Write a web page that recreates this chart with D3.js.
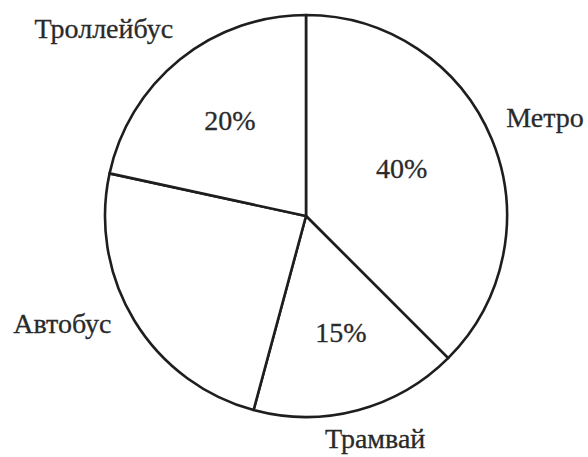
<!DOCTYPE html>
<html><head><meta charset="utf-8">
<script src="https://cdn.jsdelivr.net/npm/d3@7/dist/d3.min.js"></script>
<style>body{margin:0;background:#fff}svg{display:block}</style>
</head><body>
<script>
// Data (slice shares as drawn in the picture; printed labels as shown)
const categories = ["Метро", "Трамвай", "Автобус", "Троллейбус"];
const shares = [37.5, 16.7, 24.2, 21.6];
const percentLabels = ["40%", "15%", "", "20%"];

// Layout (not data)
const W = 588, H = 457;
const cx = 306, cy = 216, R = 201;
const innerLabel = [[63.4, 107], [163.2, 121], [0, 0], [321.6, 122.5]]; // [angleDeg, radius]
const outerLabel = [[67.5, 258.7], [162.7, 232.5], [246.3, 266], [312.9, 276]];
const FS = 28;

const svg = d3.select("body").append("svg").attr("width", W).attr("height", H);
const g = svg.append("g").attr("transform", `translate(${cx},${cy})`);

const pie = d3.pie().sort(null).value(d => d)(shares);
const arc = d3.arc().innerRadius(0).outerRadius(R);

g.selectAll("path.slice").data(pie).join("path")
  .attr("class", "slice")
  .attr("d", arc)
  .attr("fill", "#fff")
  .attr("stroke", "#1e1e1e")
  .attr("stroke-width", 2.6)
  .attr("stroke-linejoin", "round");

const font = "'Liberation Serif','Times New Roman',serif";
const px = (a, r) => r * Math.sin(a * Math.PI / 180);
const py = (a, r) => -r * Math.cos(a * Math.PI / 180);

g.selectAll("text.pct").data(pie).join("text")
  .attr("class", "pct")
  .attr("x", (d, i) => px(innerLabel[i][0], innerLabel[i][1]))
  .attr("y", (d, i) => py(innerLabel[i][0], innerLabel[i][1]))
  .attr("text-anchor", "middle")
  .attr("dy", "0.35em")
  .attr("font-family", font)
  .attr("font-size", FS)
  .attr("fill", "#2a2a2a")
  .attr("stroke", "#2a2a2a")
  .attr("stroke-width", 0.3)
  .text((d, i) => percentLabels[i]);

g.selectAll("text.cat").data(categories).join("text")
  .attr("class", "cat")
  .attr("x", (d, i) => px(outerLabel[i][0], outerLabel[i][1]))
  .attr("y", (d, i) => py(outerLabel[i][0], outerLabel[i][1]))
  .attr("text-anchor", "middle")
  .attr("dy", "0.35em")
  .attr("font-family", font)
  .attr("font-size", FS)
  .attr("fill", "#2a2a2a")
  .attr("stroke", "#2a2a2a")
  .attr("stroke-width", 0.3)
  .text(d => d);
</script>
</body></html>
